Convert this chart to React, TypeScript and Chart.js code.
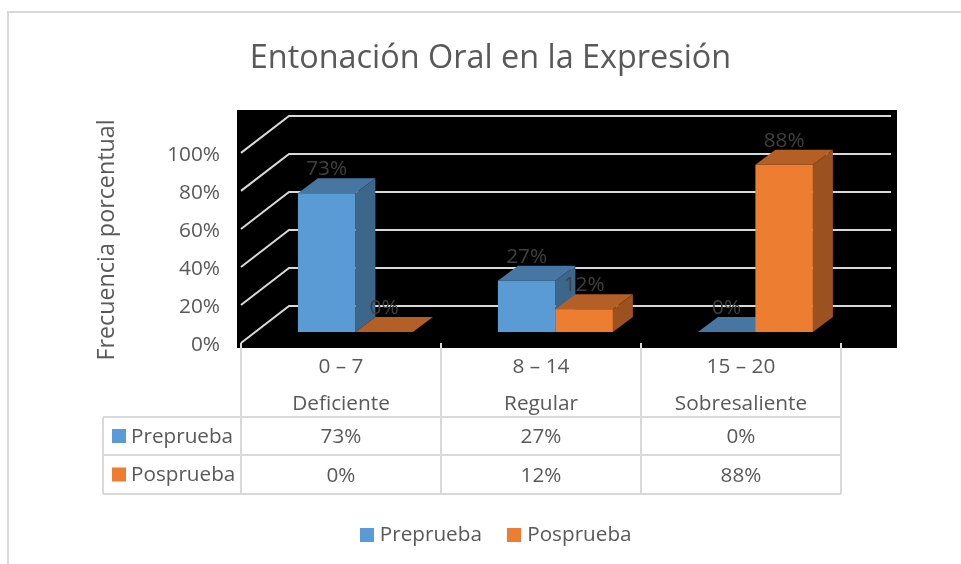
import React, { useEffect, useRef } from "react";
import { Chart, registerables } from "chart.js";

Chart.register(...registerables);

const CHART_TITLE = "Entonación Oral en la Expresión";
const AXIS_TITLE = "Frecuencia porcentual";
const categories = [["0 – 7", "Deficiente"], ["8 – 14", "Regular"], ["15 – 20", "Sobresaliente"]];
const preprueba = [73, 27, 0];
const posprueba = [0, 12, 88];
const seriesNames = ["Preprueba", "Posprueba"];
const yTicks = [0, 20, 40, 60, 80, 100];

const FONT = "'Open Sans'";
const GREY = "#595959";
const LINE = "#d9d9d9";

const FRONT = { blue: "#5b9bd5", orange: "#ed7d31" };
const TOP = { blue: "#4676a1", orange: "#b45f25" };
const SIDE = { blue: "#3d668b", orange: "#9c5120" };

const FLOOR = { dx: 48, dy: -37 };
const BAR_SHIFT = { dx: 14.4, dy: -11 };
const BAR_DEPTH = { dx: 20, dy: -15 };

function swatch(color: string) {
  const c = document.createElement("canvas");
  c.width = 14;
  c.height = 14;
  const g = c.getContext("2d")!;
  g.fillStyle = color;
  g.fillRect(0, 0, 14, 14);
  return c;
}

const scene = {
  id: "scene3d",
  afterLayout(chart: any) {
    const lg = chart.legend;
    lg.left += 7.5;
    lg.right += 7.5;
    lg.top += 5;
    lg.bottom += 5;
  },
  beforeDatasetsDraw(chart: any) {
    const { ctx, chartArea: a, scales } = chart;
    ctx.save();
    ctx.fillStyle = "#000";
    ctx.fillRect(237, 110, 660, 238);
    ctx.strokeStyle = LINE;
    ctx.lineWidth = 2;
    yTicks.forEach((t) => {
      const y = scales.y.getPixelForValue(t);
      ctx.beginPath();
      ctx.moveTo(a.left, y);
      ctx.lineTo(a.left + FLOOR.dx, y + FLOOR.dy);
      ctx.lineTo(a.right + 50, y + FLOOR.dy);
      ctx.stroke();
    });
    ctx.restore();
  },
  // series are painted front-to-back by hand: first Preprueba, then Posprueba over it
  beforeDatasetDraw() {
    return false;
  },
  afterDatasetsDraw(chart: any) {
    const { ctx, scales, chartArea: a } = chart;
    const base = scales.y.getPixelForValue(0);

    chart.data.datasets.forEach((_: any, i: number) => {
      const key = i === 0 ? "blue" : "orange";
      const meta = chart.getDatasetMeta(i);
      ctx.save();
      ctx.translate(BAR_SHIFT.dx, BAR_SHIFT.dy);
      meta.data.forEach((bar: any) => {
        const l = bar.x - bar.width / 2;
        const r = bar.x + bar.width / 2;
        const t = bar.y;
        ctx.fillStyle = TOP[key];
        ctx.beginPath();
        ctx.moveTo(l, t);
        ctx.lineTo(l + BAR_DEPTH.dx, t + BAR_DEPTH.dy);
        ctx.lineTo(r + BAR_DEPTH.dx, t + BAR_DEPTH.dy);
        ctx.lineTo(r, t);
        ctx.closePath();
        ctx.fill();
        if (base - t > 0.5) {
          ctx.fillStyle = SIDE[key];
          ctx.beginPath();
          ctx.moveTo(r, t);
          ctx.lineTo(r + BAR_DEPTH.dx, t + BAR_DEPTH.dy);
          ctx.lineTo(r + BAR_DEPTH.dx, base + BAR_DEPTH.dy);
          ctx.lineTo(r, base);
          ctx.closePath();
          ctx.fill();
        }
      });
      meta.controller.draw();
      ctx.restore();
    });

    ctx.save();
    ctx.textAlign = "center";
    ctx.textBaseline = "middle";
    ctx.font = `20.8px ${FONT}`;
    chart.data.datasets.forEach((ds: any, i: number) => {
      chart.getDatasetMeta(i).data.forEach((bar: any, j: number) => {
        ctx.fillStyle = "#404040";
        ctx.fillText(`${ds.data[j]}%`, bar.x + BAR_SHIFT.dx, bar.y + BAR_SHIFT.dy - 24);
      });
    });

    // axis title
    ctx.save();
    ctx.translate(107, 240);
    ctx.rotate(-Math.PI / 2);
    ctx.font = `23.3px ${FONT}`;
    ctx.fillStyle = GREY;
    ctx.fillText(AXIS_TITLE, 0, 0);
    ctx.restore();

    // data table under the axis
    const ticks = scales.x.ticks.map((_: any, i: number) => scales.x.getPixelForTick(i));
    const step = ticks[1] - ticks[0];
    const edges = [a.left, ...ticks.map((x: number) => x + step / 2)];
    const rows = [417, 455, 494];
    const tableLeft = 103;
    ctx.strokeStyle = LINE;
    ctx.lineWidth = 2;
    edges.forEach((x: number) => {
      ctx.beginPath();
      ctx.moveTo(x, a.bottom);
      ctx.lineTo(x, rows[2]);
      ctx.stroke();
    });
    rows.forEach((y) => {
      ctx.beginPath();
      ctx.moveTo(tableLeft, y);
      ctx.lineTo(a.right, y);
      ctx.stroke();
    });
    ctx.beginPath();
    ctx.moveTo(tableLeft, rows[0]);
    ctx.lineTo(tableLeft, rows[2]);
    ctx.stroke();
    ctx.font = `20.7px ${FONT}`;
    chart.data.datasets.forEach((ds: any, i: number) => {
      const yc = (rows[i] + rows[i + 1]) / 2;
      ctx.textAlign = "left";
      ctx.fillStyle = i === 0 ? FRONT.blue : FRONT.orange;
      ctx.fillRect(112, yc - 7, 14, 14);
      ctx.fillStyle = GREY;
      ctx.fillText(ds.label, 131, yc + 1);
      ctx.textAlign = "center";
      ds.data.forEach((v: number, j: number) => ctx.fillText(`${v}%`, ticks[j], yc + 1.5));
    });

    // outer frame
    ctx.strokeStyle = LINE;
    ctx.lineWidth = 2;
    ctx.beginPath();
    ctx.moveTo(8, 564);
    ctx.lineTo(8, 12);
    ctx.lineTo(961, 12);
    ctx.stroke();
    ctx.restore();
  },
};

export default function App() {
  const ref = useRef<HTMLCanvasElement>(null);
  useEffect(() => {
    const chart = new Chart(ref.current!, {
      type: "bar",
      data: {
        labels: categories as any,
        datasets: [
          { label: seriesNames[0], data: preprueba, backgroundColor: FRONT.blue, clip: false as any },
          { label: seriesNames[1], data: posprueba, backgroundColor: FRONT.orange, clip: false as any },
        ],
      },
      plugins: [scene],
      options: {
        animation: false,
        responsive: false,
        events: [],
        layout: { padding: { left: 20, right: 0, top: 39, bottom: 14 } },
        datasets: { bar: { categoryPercentage: 0.575, barPercentage: 1 } },
        plugins: {
          tooltip: { enabled: false },
          title: {
            display: true,
            text: CHART_TITLE,
            color: GREY,
            font: { family: FONT, size: 32.4, weight: "normal" },
            padding: { top: 0, bottom: 75 },
          },
          legend: {
            position: "bottom",
            labels: {
              color: GREY,
              font: { family: FONT, size: 20.7 },
              usePointStyle: true,
              boxWidth: 5,
              boxHeight: 14,
              padding: 30,
              generateLabels: () =>
                seriesNames.map((text, i) => ({
                  text,
                  fontColor: GREY,
                  pointStyle: swatch(i === 0 ? FRONT.blue : FRONT.orange),
                  datasetIndex: i,
                  lineWidth: 0,
                })) as any,
            },
          },
        },
        scales: {
          x: {
            grid: { display: false },
            border: { display: false },
            ticks: {
              color: GREY,
              font: { family: FONT, size: 20.8, lineHeight: 1.8 },
              padding: -3,
              maxRotation: 0,
              autoSkip: false,
            },
            afterFit: (s: any) => {
              s.height = 564 - 343 - 14 - s.chart.legend.height;
            },
          },
          y: {
            min: 0,
            max: 100,
            grid: { display: false },
            border: { display: false },
            afterBuildTicks: (s: any) => {
              s.ticks = yTicks.map((value) => ({ value }));
            },
            ticks: {
              color: GREY,
              font: { family: FONT, size: 20.8 },
              padding: 13,
              callback: (v: any) => `${v}%`,
            },
            afterFit: (s: any) => {
              s.width = 221;
              // tick labels sit 2px below their gridline start, as in the reference
              s.getPixelForTick = (i: number) => s.getPixelForValue(s.ticks[i].value) + 2;
            },
          },
          spacer: {
            type: "linear",
            position: "right",
            grid: { display: false },
            border: { display: false },
            ticks: { display: false },
            afterFit: (s: any) => {
              s.width = 120;
            },
          },
        },
      },
    });
    return () => chart.destroy();
  }, []);
  return <canvas ref={ref} width={961} height={564} style={{ position: "absolute", left: 0, top: 0 }} />;
}
